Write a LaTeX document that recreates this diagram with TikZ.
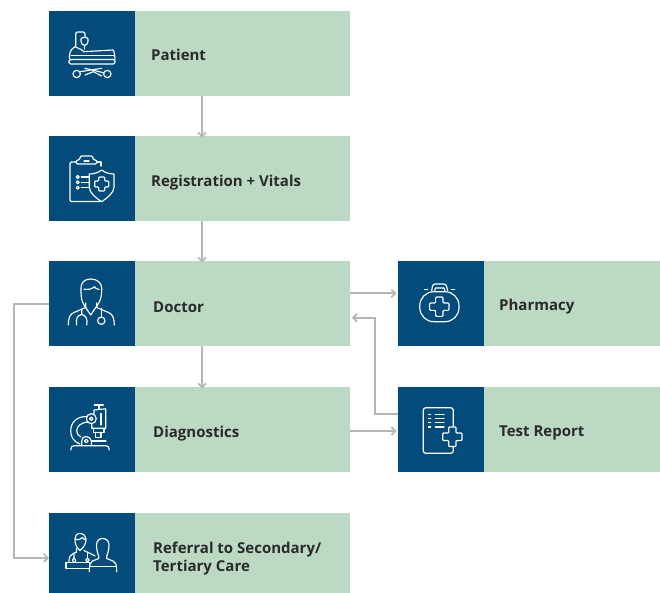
\documentclass[tikz,border=0pt]{standalone}
\usepackage{fontspec}
\setmainfont{Open Sans}
\usetikzlibrary{arrows.meta,calc}
\definecolor{navy}{HTML}{024B7A}
\definecolor{sage}{HTML}{BCDAC3}
\definecolor{link}{HTML}{B6B6B6}
\definecolor{ink}{HTML}{2A2A2A}
\tikzset{
 iconbox/.style={fill=navy,draw=none,minimum width=86pt,inner sep=0pt,anchor=north west},
 labelbox/.style={fill=sage,draw=none,inner sep=0pt,anchor=north west,minimum height=85pt,minimum width=215pt},
 sidebox/.style={labelbox,minimum width=176pt},
 lbl/.style={anchor=west,inner sep=0pt,font=\bfseries\fontsize{15}{18}\selectfont,text=ink,align=left},
 ico/.style={draw=white,line width=1.15pt,line cap=round,line join=round},
 link/.style={draw=link,line width=2.2pt,-{Straight Barb[length=4pt,width=8pt,line width=1.7pt]}},
}
\begin{document}
\begin{tikzpicture}[x=1pt,y=-1pt]
\useasboundingbox (0,0) rectangle (660,593);
% boxes
\node[iconbox,minimum height=85pt] (patientI) at (49,11) {};
\node[iconbox,minimum height=85pt] (regI) at (49,136) {};
\node[iconbox,minimum height=85pt] (docI) at (49,261) {};
\node[iconbox,minimum height=85pt] (diagI) at (49,387) {};
\node[iconbox,minimum height=80pt] (refI) at (49,513) {};
\node[iconbox,minimum height=85pt] (pharmI) at (398,261) {};
\node[iconbox,minimum height=85pt] (testI) at (398,387) {};
\node[labelbox] (patient) at (135,11) {};
\node[labelbox] (reg) at (135,136) {};
\node[labelbox] (doc) at (135,261) {};
\node[labelbox] (diag) at (135,387) {};
\node[labelbox,minimum height=80pt] (ref) at (135,513) {};
\node[sidebox] (pharm) at (484,261) {};
\node[sidebox] (test) at (484,387) {};
% labels
\node[lbl] (patientT) at ($(patient.west)+(16,1.5)$) {Patient};
\node[lbl] (regT) at ($(reg.west)+(16,4)$) {Registration + Vitals};
\node[lbl] (docT) at ($(doc.west)+(18,3.5)$) {Doctor};
\node[lbl] (diagT) at ($(diag.west)+(18,3.5)$) {Diagnostics};
\node[lbl] (refT) at ($(ref.west)+(18,5)$) {Referral to Secondary/\\Tertiary Care};
\node[lbl] (pharmT) at ($(pharm.west)+(15,3)$) {Pharmacy};
\node[lbl] (testT) at ($(test.west)+(15,3.5)$) {Test Report};
% connector helpers
\coordinate (vx) at (202,0);
\coordinate (yPh) at (0,293.3);
\coordinate (yBack) at (0,317.7);
\coordinate (yTest) at (0,414.3);
\coordinate (yDT) at (0,431);
\coordinate (yRef) at (0,558);
\coordinate (leftx) at (14,0);
\coordinate (backx) at (375,0);
% connectors
\draw[link] (patient.south -| vx) -- ([yshift=-1.5pt]reg.north -| vx);
\draw[link] (reg.south -| vx) -- ([yshift=-1.5pt]doc.north -| vx);
\draw[link] (doc.south -| vx) -- ([yshift=-1.5pt]diag.north -| vx);
\draw[link] (doc.east |- yPh) -- ([xshift=-1.5pt]pharmI.west |- yPh);
\draw[link] (diag.east |- yDT) -- ([xshift=-1.5pt]testI.west |- yDT);
\draw[link] (testI.west |- yTest) -- (backx |- yTest) -- (backx |- yBack) -- ([xshift=1.5pt]doc.east |- yBack);
\draw[link] (docI.west) -- (leftx |- docI.west) -- (leftx |- yRef) -- (refI.west |- yRef);
% patient icon
\begin{scope}[ico]
\draw (75.7,46) -- (75.7,34) arc[start angle=180,end angle=270,radius=2] -- (83,32) arc[start angle=-90,end angle=0,radius=2] -- (85,37);
\draw[rounded corners=1.5pt] (81,37.5) -- (88,37.5) -- (88,43) -- (85.5,45.5) -- (83.5,45.5) -- (81,43) -- cycle;
\draw (84.2,45.5) -- (84.2,49);
\draw[rounded corners=1.5pt] (69,59.5) -- (115,59.5) -- (115,64) -- (69,64) -- cycle;
\draw (84,51.7) -- (113,50) .. controls (114,51) and (114.7,54) .. (115,59.5);
\draw (69.5,59) -- (69.5,54.5) .. controls (70.5,50.5) and (72,48) .. (75,46.7) -- (81,49.5) -- (84,51.7);
\draw (71,55.3) -- (114,55.3);
\draw (80,71.7) -- (101.7,68.3);
\draw (85,68.3) -- (103.5,72.7);
\draw (85,75) -- (93.3,71.7) -- (101.7,76);
\draw (76.7,74) circle[radius=3.7];
\draw (107.3,74) circle[radius=3.7];
\end{scope}
% registration icon
\begin{scope}[ico]
\draw[rounded corners=1.2pt] (76,162) -- (70,162) -- (70,201.5) -- (100,201.5);
\draw (97,162) -- (101,162) -- (101,166);
\draw[rounded corners=1.5pt] (76,164) -- (76,160) -- (80,160) -- (80,156) -- (93,156) -- (93,160) -- (97,160) -- (97,164) -- cycle;
\draw (84,161) -- (89,161);
\foreach \yy in {177,182.3,187.7}{
 \draw (77.7,\yy) circle[radius=1.5];
 \draw (81.3,\yy) -- (89,\yy);
}
\draw (101.7,170) .. controls (98,173) and (93,174) .. (89.3,174) -- (89.3,187) .. controls (89.3,193) and (96,198) .. (101.7,201.7) .. controls (107,198) and (114,193) .. (114,187) -- (114,174) .. controls (110,174) and (105,173) .. (101.7,170) -- cycle;
\draw[rounded corners=.8pt] (98.7,177) -- (104.7,177) -- (104.7,181) -- (108.7,181) -- (108.7,187) -- (104.7,187) -- (104.7,191) -- (98.7,191) -- (98.7,187) -- (94.7,187) -- (94.7,181) -- (98.7,181) -- cycle;
\end{scope}
% doctor icon
\begin{scope}[ico]
\draw (90.7,279) .. controls (84,279) and (81,283) .. (81,288) .. controls (81,296) and (81,300) .. (84,305) -- (90.7,315) -- (97.5,305) .. controls (101,300) and (101.7,296) .. (101.7,288) .. controls (101.7,283) and (97,279) .. (90.7,279) -- cycle;
\draw (84,289.3) .. controls (88,289.5) and (92,289.5) .. (94.5,286.7) .. controls (95,288.5) and (97,289.3) .. (99,289.3);
\draw (68.3,325) .. controls (68.3,318) and (70,314) .. (74,312.5) -- (85.7,307.5) -- (85.7,303);
\draw (114.3,325) .. controls (114.3,318) and (112.5,314) .. (108.5,312.5) -- (96.7,307.5) -- (96.7,303);
\draw (81.7,309) -- (81.7,314.5) .. controls (77,315) and (75.5,320) .. (76.7,325);
\draw (81.7,314.5) .. controls (86,315) and (88,320) .. (86.7,325);
\draw (101.3,308.5) -- (101.3,317);
\draw (101.3,320.7) circle[radius=3.7];
\end{scope}
% microscope icon
\begin{scope}[ico]
\draw (70.7,450) .. controls (71,447) and (72,445.7) .. (74,445.7) -- (106,445.7) .. controls (108,445.7) and (109,447) .. (109.3,450);
\draw (92,441) -- (106,441);
\draw (81.7,445.7) -- (81.7,441) .. controls (81.7,435) and (90,435) .. (91.5,441) -- (91.5,445.7);
\draw (86.3,441) circle[radius=1.8];
\draw (86.5,416.5) .. controls (76,416.5) and (70.7,423) .. (70.7,431) .. controls (70.7,437) and (74,442) .. (80,444);
\draw (88.3,422) .. controls (81,422.5) and (76.7,426) .. (76.7,431) .. controls (76.7,433.5) and (78,435.5) .. (81,437);
\draw (91.3,418.7) circle[radius=5];
\draw (91.3,418.7) circle[radius=1.7];
\draw (94,414) -- (94,410) -- (105.7,408.8) -- (105.7,428.3) -- (91.7,428.3) -- (91.7,423.5);
\draw (99,409.5) -- (99,405);
\draw (94.3,405) -- (103.3,405);
\draw (101,413.5) -- (101,425);
\draw (93.5,428.3) -- (93.5,432.3) -- (104,432.3) -- (104,428.3);
\draw (95.7,432.3) -- (95.7,437.7) -- (101,437.7) -- (101,432.3);
\end{scope}
% pharmacy icon
\begin{scope}[ico]
\draw[rounded corners=14pt] (419.8,291.7) rectangle (459,321.7);
\draw (431.7,290.5) -- (432.5,286) .. controls (433,284.5) and (434,284) .. (435.5,284) -- (443.5,284) .. controls (445,284) and (446,284.5) .. (446.5,286) -- (447.7,290.5);
\draw (434.7,290.5) -- (435.5,288) -- (444,288) -- (445,290.5);
\draw (424.5,289.3) -- (427.7,289.3);
\draw (451.5,289.3) -- (454.7,289.3);
\draw[rounded corners=1pt] (435.6,297) -- (443,297) -- (443,303) -- (449,303) -- (449,310.4) -- (443,310.4) -- (443,316.4) -- (435.6,316.4) -- (435.6,310.4) -- (429.6,310.4) -- (429.6,303) -- (435.6,303) -- cycle;
\end{scope}
% test report icon
\begin{scope}[ico]
\draw[rounded corners=2.5pt] (453.3,426) -- (453.3,407.7) -- (423.3,407.7) -- (423.3,453.3) -- (453.3,453.3) -- (453.3,447);
\foreach \yy in {414.3,418.3,422.7,427}{
 \draw (428.5,\yy) -- (430.7,\yy);
 \draw (435.3,\yy) -- (444,\yy);
}
\draw[rounded corners=.8pt] (448.7,427) -- (456,427) -- (456,433) -- (462,433) -- (462,440.5) -- (456,440.5) -- (456,446.5) -- (448.7,446.5) -- (448.7,440.5) -- (442.7,440.5) -- (442.7,433) -- (448.7,433) -- cycle;
\end{scope}
% referral icon
\begin{scope}[ico]
\draw (80,533.5) .. controls (76.5,533.5) and (75,536) .. (75,539) .. controls (75,544) and (76,547) .. (80,550.5) .. controls (84,547) and (86,544) .. (86,539) .. controls (86,536) and (83.5,533.5) .. (80,533.5) -- cycle;
\draw (75.5,539.5) .. controls (78,540) and (81,539.5) .. (82.5,537.5) .. controls (83,539) and (84,539.5) .. (85.5,539.5);
\draw (69,561.5) .. controls (69,557) and (70,555) .. (73,553.7) -- (76.5,552) -- (76.5,548.5);
\draw (95,556) .. controls (93,554.5) and (90,553.5) .. (87,552) -- (84,550.5);
\draw (74,554) -- (74,558) .. controls (72,559) and (72,561) .. (73.5,562);
\draw (74,558) .. controls (76,559) and (76,561) .. (75,562);
\draw (87.5,553) -- (87.5,558);
\draw (87.5,560) circle[radius=1.8];
\draw (66,562.7) rectangle (89.3,568.3);
\draw (102.7,538.5) .. controls (99,538.5) and (96.5,541) .. (96.5,545) .. controls (96.5,550) and (98,554) .. (98.7,556.5) -- (98.7,558.5) -- (92.5,561) .. controls (90.5,562) and (89.3,564) .. (89.3,571.7);
\draw (102.7,538.5) .. controls (106.5,538.5) and (109,541) .. (109,545) .. controls (109,550) and (107.5,554) .. (106.7,556.5) -- (106.7,558.5) -- (113,561) .. controls (115.5,562) and (116.7,564) .. (116.7,571.7);
\draw (90,566.7) -- (116.5,566.7);
\end{scope}
\end{tikzpicture}
\end{document}
